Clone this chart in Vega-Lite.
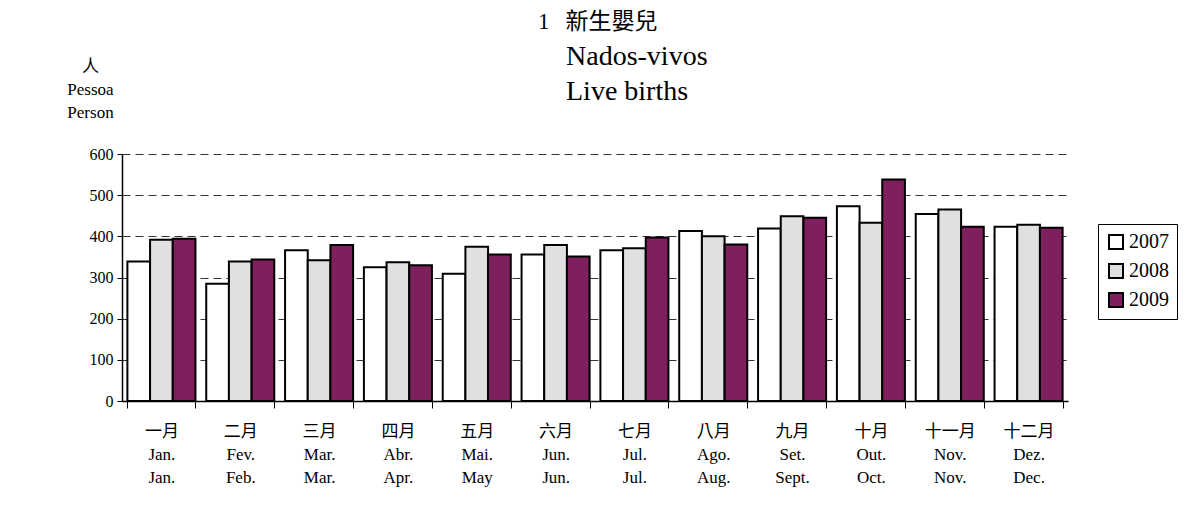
{
  "$schema": "https://vega.github.io/schema/vega-lite/v6.json",
  "width": 946,
  "height": 247,
  "autosize": {"type": "none"},
  "padding": {"left": 122, "top": 154, "right": 127, "bottom": 125},
  "background": "white",
  "config": {
    "view": {"stroke": null},
    "font": "Liberation Serif, Noto Sans CJK TC",
    "axis": {"labelColor": "black", "titleColor": "black"},
    "legend": {"labelColor": "black"}
  },
  "title": {
    "text": "1\u00a0\u00a0\u2009新生嬰兒",
    "subtitle": ["\u200b\u00a0\u00a0\u00a0\u00a0Nados-vivos", "\u200b\u00a0\u00a0\u00a0\u00a0Live births"],
    "anchor": "start",
    "frame": "group",
    "dx": 416,
    "fontSize": 23,
    "fontWeight": "normal",
    "font": "Liberation Serif, Noto Sans CJK TC",
    "subtitleFont": "Liberation Serif",
    "subtitleFontSize": 28,
    "subtitleLineHeight": 35,
    "subtitlePadding": 9,
    "subtitleColor": "black",
    "offset": -49,
    "color": "black"
  },
  "data": {
    "values": [
      {"month": "一月|Jan.|Jan.", "year": "2007", "value": 339},
      {"month": "一月|Jan.|Jan.", "year": "2008", "value": 392},
      {"month": "一月|Jan.|Jan.", "year": "2009", "value": 394},
      {"month": "二月|Fev.|Feb.", "year": "2007", "value": 285},
      {"month": "二月|Fev.|Feb.", "year": "2008", "value": 339},
      {"month": "二月|Fev.|Feb.", "year": "2009", "value": 344},
      {"month": "三月|Mar.|Mar.", "year": "2007", "value": 366},
      {"month": "三月|Mar.|Mar.", "year": "2008", "value": 342},
      {"month": "三月|Mar.|Mar.", "year": "2009", "value": 379},
      {"month": "四月|Abr.|Apr.", "year": "2007", "value": 325},
      {"month": "四月|Abr.|Apr.", "year": "2008", "value": 337},
      {"month": "四月|Abr.|Apr.", "year": "2009", "value": 330},
      {"month": "五月|Mai.|May", "year": "2007", "value": 309},
      {"month": "五月|Mai.|May", "year": "2008", "value": 375},
      {"month": "五月|Mai.|May", "year": "2009", "value": 356},
      {"month": "六月|Jun.|Jun.", "year": "2007", "value": 356},
      {"month": "六月|Jun.|Jun.", "year": "2008", "value": 379},
      {"month": "六月|Jun.|Jun.", "year": "2009", "value": 351},
      {"month": "七月|Jul.|Jul.", "year": "2007", "value": 366},
      {"month": "七月|Jul.|Jul.", "year": "2008", "value": 371},
      {"month": "七月|Jul.|Jul.", "year": "2009", "value": 397},
      {"month": "八月|Ago.|Aug.", "year": "2007", "value": 413},
      {"month": "八月|Ago.|Aug.", "year": "2008", "value": 400},
      {"month": "八月|Ago.|Aug.", "year": "2009", "value": 380},
      {"month": "九月|Set.|Sept.", "year": "2007", "value": 419},
      {"month": "九月|Set.|Sept.", "year": "2008", "value": 449},
      {"month": "九月|Set.|Sept.", "year": "2009", "value": 445},
      {"month": "十月|Out.|Oct.", "year": "2007", "value": 473},
      {"month": "十月|Out.|Oct.", "year": "2008", "value": 433},
      {"month": "十月|Out.|Oct.", "year": "2009", "value": 538},
      {"month": "十一月|Nov.|Nov.", "year": "2007", "value": 454},
      {"month": "十一月|Nov.|Nov.", "year": "2008", "value": 465},
      {"month": "十一月|Nov.|Nov.", "year": "2009", "value": 423},
      {"month": "十二月|Dez.|Dec.", "year": "2007", "value": 423},
      {"month": "十二月|Dez.|Dec.", "year": "2008", "value": 428},
      {"month": "十二月|Dez.|Dec.", "year": "2009", "value": 421}
    ]
  },
  "mark": {"type": "bar", "stroke": "black", "strokeWidth": 2},
  "encoding": {
    "x": {
      "field": "month",
      "type": "nominal",
      "sort": null,
      "scale": {"paddingInner": 0.137, "paddingOuter": 0.0685},
      "axis": {
        "title": null,
        "labelExpr": "split(datum.label, '|')",
        "labelAngle": 0,
        "labelFont": "Liberation Serif, Noto Sans CJK TC",
        "labelFontSize": 17,
        "labelLineHeight": 23,
        "labelBaseline": "top",
        "labelPadding": 15,
        "labelBound": false,
        "labelOverlap": false,
        "tickBand": "extent",
        "tickColor": "black",
        "tickSize": 7,
        "domainColor": "black",
        "domainWidth": 1.5
      }
    },
    "xOffset": {"field": "year", "type": "nominal", "scale": {"paddingInner": 0}},
    "y": {
      "field": "value",
      "type": "quantitative",
      "scale": {"domain": [0, 600]},
      "axis": {
        "values": [0, 100, 200, 300, 400, 500, 600],
        "title": ["人", "Pessoa", "Person"],
        "titleFont": "Liberation Serif, Noto Sans CJK TC",
        "titleAngle": 0,
        "titleAlign": "center",
        "titleBaseline": "top",
        "titleX": -32,
        "titleY": -96,
        "titleFontSize": 17,
        "titleFontWeight": "normal",
        "titleLineHeight": 23,
        "labelFont": "Liberation Serif",
        "labelFontSize": 16,
        "labelPadding": 4,
        "tickSize": 5,
        "tickColor": "black",
        "domainColor": "black",
        "domainWidth": 1.5,
        "grid": true,
        "gridDash": [8, 5],
        "gridColor": "#333333",
        "gridWidth": 1
      }
    },
    "fill": {
      "field": "year",
      "type": "nominal",
      "scale": {"domain": ["2007", "2008", "2009"], "range": ["#ffffff", "#e0e0e0", "#7e1f5e"]},
      "legend": {
        "orient": "none",
        "legendX": 976,
        "legendY": 70,
        "direction": "vertical",
        "title": null,
        "strokeColor": "black",
        "fillColor": "white",
        "padding": 8,
        "symbolType": "square",
        "symbolSize": 196,
        "symbolStrokeColor": "black",
        "symbolStrokeWidth": 2,
        "symbolOpacity": 1,
        "labelFont": "Liberation Serif",
        "labelFontSize": 20,
        "labelOffset": 3,
        "rowPadding": 7
      }
    }
  }
}
